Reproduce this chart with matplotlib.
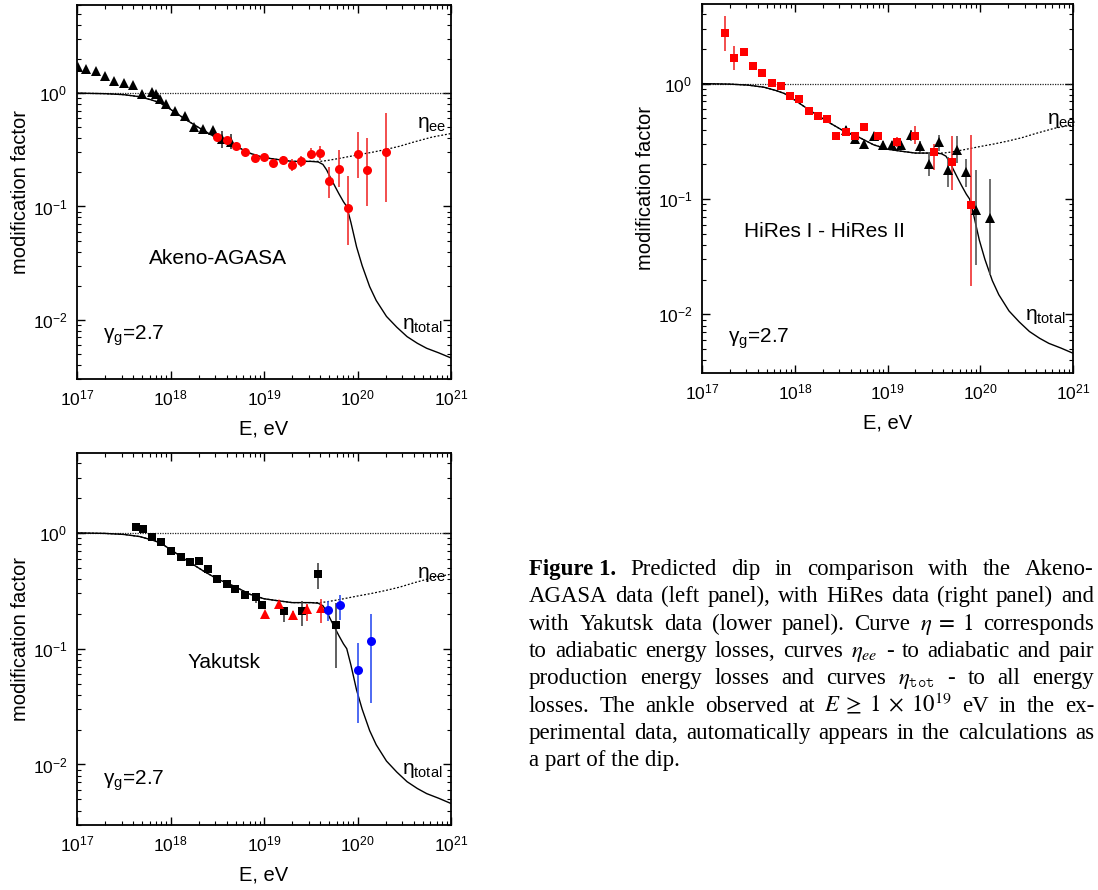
import numpy as np
import matplotlib
matplotlib.use('Agg')
import matplotlib.pyplot as plt
from matplotlib.ticker import LogLocator, NullFormatter

plt.rcParams['font.family'] = ['Liberation Sans', 'DejaVu Sans']
plt.rcParams['mathtext.fontset'] = 'custom'
plt.rcParams['mathtext.rm'] = 'Liberation Sans'
plt.rcParams['mathtext.it'] = 'Liberation Sans:italic'
plt.rcParams['mathtext.bf'] = 'Liberation Sans:bold'

# ---- theory curves, log10(E/eV) vs modification factor ----
lgE_one = [17.0, 21.0]
eta_one = [1.0, 1.0]

lgE_total = [17.0, 17.3, 17.5, 17.67, 17.8, 17.89, 18.0, 18.17, 18.35, 18.5,
             18.67, 18.85, 19.0, 19.14, 19.3, 19.5, 19.58, 19.63, 19.67, 19.71,
             19.76, 19.8, 19.85, 19.885, 19.93, 19.99, 20.05, 20.13, 20.2, 20.31,
             20.42, 20.53, 20.64, 20.74, 20.87, 21.0]
eta_total = [1.0, 0.99, 0.97, 0.93, 0.87, 0.82, 0.72, 0.58, 0.47, 0.40,
             0.35, 0.295, 0.27, 0.26, 0.25, 0.25, 0.247, 0.235, 0.21, 0.18,
             0.15, 0.13, 0.11, 0.10, 0.072, 0.044, 0.030, 0.0196, 0.0148, 0.0107,
             0.0086, 0.0071, 0.0062, 0.0056, 0.0051, 0.0046]

lgE_ee = [17.0, 17.3, 17.5, 17.67, 17.8, 17.89, 18.0, 18.17, 18.35, 18.5,
          18.67, 18.85, 19.0, 19.14, 19.3, 19.5, 19.6, 19.67, 19.8, 20.0,
          20.15, 20.3, 20.45, 20.6, 20.8, 21.0]
eta_ee = [1.0, 0.99, 0.97, 0.93, 0.87, 0.82, 0.72, 0.58, 0.47, 0.40,
          0.35, 0.295, 0.27, 0.26, 0.25, 0.25, 0.25, 0.254, 0.265, 0.285,
          0.30, 0.318, 0.34, 0.37, 0.41, 0.44]

# ---- Akeno (black triangles) ----
akeno_lgE = [17.01, 17.10, 17.20, 17.30, 17.40, 17.50, 17.60, 17.70, 17.80, 17.85,
             17.89, 17.95, 18.05, 18.15, 18.25, 18.35, 18.45, 18.55, 18.65]
akeno_eta = [1.70, 1.64, 1.57, 1.42, 1.29, 1.22, 1.18, 0.98, 1.02, 0.98,
             0.885, 0.80, 0.70, 0.63, 0.50, 0.48, 0.47, 0.39, 0.37]
akeno_lo = [1.64, 1.58, 1.51, 1.34, 1.22, 1.16, 1.10, 0.93, 0.97, 0.93,
            0.84, 0.76, 0.67, 0.60, 0.47, 0.45, 0.44, 0.33, 0.32]
akeno_hi = [1.76, 1.70, 1.63, 1.50, 1.36, 1.28, 1.26, 1.03, 1.07, 1.03,
            0.93, 0.84, 0.73, 0.66, 0.53, 0.51, 0.50, 0.46, 0.44]

# ---- AGASA (red circles) ----
agasa_lgE = [18.50, 18.60, 18.70, 18.80, 18.90, 19.00, 19.10, 19.20, 19.30, 19.40,
             19.50, 19.60, 19.70, 19.80, 19.90, 20.00, 20.10, 20.30]
agasa_eta = [0.414, 0.387, 0.345, 0.301, 0.270, 0.272, 0.244, 0.258, 0.230, 0.251,
             0.293, 0.295, 0.169, 0.213, 0.096, 0.293, 0.21, 0.30]
agasa_lo = [0.39, 0.365, 0.325, 0.285, 0.255, 0.255, 0.225, 0.235, 0.205, 0.225,
            0.265, 0.255, 0.119, 0.150, 0.046, 0.178, 0.10, 0.11]
agasa_hi = [0.44, 0.41, 0.365, 0.32, 0.285, 0.29, 0.265, 0.28, 0.26, 0.28,
            0.325, 0.345, 0.225, 0.316, 0.184, 0.45, 0.40, 0.67]

# ---- HiRes I (red squares) ----
hires1_lgE = [17.25, 17.35, 17.45, 17.55, 17.65, 17.75, 17.85, 17.95, 18.05, 18.15,
              18.25, 18.35, 18.45, 18.55, 18.65, 18.75, 18.90, 19.10, 19.30, 19.50,
              19.70, 19.90]
hires1_eta = [2.73, 1.66, 1.87, 1.42, 1.23, 1.01, 0.95, 0.78, 0.73, 0.575,
              0.52, 0.49, 0.355, 0.38, 0.355, 0.42, 0.35, 0.31, 0.35, 0.256,
              0.21, 0.088]
hires1_lo = [1.90, 1.32, 1.74, 1.33, 1.16, 0.96, 0.90, 0.74, 0.69, 0.545,
             0.49, 0.46, 0.33, 0.35, 0.33, 0.385, 0.32, 0.28, 0.30, 0.18,
             0.12, 0.0175]
hires1_hi = [3.88, 2.10, 1.98, 1.51, 1.30, 1.06, 1.00, 0.82, 0.77, 0.605,
             0.55, 0.52, 0.38, 0.41, 0.38, 0.46, 0.38, 0.345, 0.43, 0.30,
             0.35, 0.357]

# ---- HiRes II (black triangles) ----
hires2_lgE = [18.55, 18.65, 18.75, 18.85, 18.95, 19.05, 19.15, 19.25, 19.35, 19.45,
              19.55, 19.65, 19.75, 19.85, 19.95, 20.10]
hires2_eta = [0.40, 0.33, 0.30, 0.355, 0.294, 0.294, 0.294, 0.36, 0.286, 0.203,
              0.31, 0.18, 0.268, 0.172, 0.080, 0.0687]
hires2_lo = [0.37, 0.31, 0.28, 0.33, 0.275, 0.275, 0.275, 0.32, 0.255, 0.158,
             0.26, 0.126, 0.206, 0.127, 0.027, 0.022]
hires2_hi = [0.43, 0.355, 0.32, 0.38, 0.315, 0.315, 0.315, 0.40, 0.32, 0.25,
             0.36, 0.23, 0.354, 0.22, 0.18, 0.15]

# ---- Yakutsk (black squares) ----
yak_lgE = [17.63, 17.71, 17.80, 17.90, 18.01, 18.11, 18.21, 18.30, 18.40, 18.50,
           18.60, 18.69, 18.80, 18.91, 18.98, 19.21, 19.41, 19.58, 19.77]
yak_eta = [1.13, 1.08, 0.92, 0.83, 0.70, 0.62, 0.565, 0.57, 0.49, 0.40,
           0.36, 0.33, 0.29, 0.277, 0.24, 0.21, 0.21, 0.44, 0.16]
yak_lo = [1.09, 1.04, 0.88, 0.80, 0.67, 0.60, 0.54, 0.545, 0.47, 0.385,
          0.345, 0.315, 0.27, 0.25, 0.225, 0.17, 0.158, 0.327, 0.068]
yak_hi = [1.17, 1.12, 0.96, 0.86, 0.73, 0.645, 0.59, 0.595, 0.51, 0.415,
          0.375, 0.345, 0.31, 0.30, 0.255, 0.227, 0.26, 0.547, 0.25]

# red triangles and blue circles in the Yakutsk panel
yak_red_lgE = [19.01, 19.16, 19.31, 19.46, 19.61]
yak_red_eta = [0.198, 0.243, 0.196, 0.22, 0.223]
yak_red_lo = [0.19, 0.225, 0.18, 0.175, 0.166]
yak_red_hi = [0.21, 0.26, 0.21, 0.242, 0.27]

yak_blue_lgE = [19.68, 19.81, 20.00, 20.14]
yak_blue_eta = [0.217, 0.237, 0.066, 0.117]
yak_blue_lo = [0.175, 0.178, 0.023, 0.034]
yak_blue_hi = [0.26, 0.29, 0.113, 0.20]

W, H = 1098, 890
fig = plt.figure(figsize=(W / 100, H / 100), dpi=100)


def px_axes(l, t, r, b):
    return fig.add_axes([l / W, 1 - b / H, (r - l) / W, (b - t) / H])


def curves(ax):
    ax.plot(10 ** np.array(lgE_one), eta_one, color='#222222', lw=0.9, ls=(0, (1, 1)))
    ax.plot(10 ** np.array(lgE_ee), eta_ee, color='k', lw=0.9, ls=(0, (1.5, 1.5)))
    ax.plot(10 ** np.array(lgE_total), eta_total, color='k', lw=1.0)


def points(ax, lgE, eta, lo, hi, marker, color, ecolor, ms):
    eta = np.array(eta)
    err = [eta - np.array(lo), np.array(hi) - eta]
    ax.errorbar(10 ** np.array(lgE), eta, yerr=err, fmt=marker, color=color,
                ecolor=ecolor, elinewidth=1.2, capsize=0, ms=ms, mew=0, zorder=3)


def setup(ax, ylim):
    ax.set_xscale('log')
    ax.set_yscale('log')
    ax.set_xlim(1e17, 1e21)
    ax.set_ylim(*ylim)
    ax.xaxis.set_major_locator(LogLocator(base=10, numticks=10))
    ax.xaxis.set_minor_locator(LogLocator(base=10, subs=np.arange(2, 10), numticks=50))
    ax.yaxis.set_minor_locator(LogLocator(base=10, subs=np.arange(2, 10), numticks=50))
    ax.xaxis.set_minor_formatter(NullFormatter())
    ax.yaxis.set_minor_formatter(NullFormatter())
    ax.tick_params(which='both', direction='in', top=True, right=True, labelsize=12.5)
    ax.tick_params(which='major', length=6, width=1.0, pad=7)
    ax.tick_params(which='minor', length=3, width=0.8)
    for s in ax.spines.values():
        s.set_linewidth(1.3)
    ax.set_xlabel('E, eV', fontsize=14.5, labelpad=8)
    ax.set_ylabel('modification factor', fontsize=14.5, labelpad=2)


def labels(ax, name, name_xy, gam_xy, ee_xy, tot_xy):
    ax.text(*name_xy, name, fontsize=15, ha='center', va='center')
    ax.text(*gam_xy, 'γ$_\\mathregular{g}$=2.7', fontsize=15, ha='left', va='center')
    ax.text(*ee_xy, 'η$_\\mathregular{ee}$', fontsize=15, ha='left', va='center')
    ax.text(*tot_xy, 'η$_\\mathregular{total}$', fontsize=15, ha='left', va='center')


# Akeno-AGASA
ax1 = px_axes(77, 5, 451, 379)
setup(ax1, (0.003, 6.0))
curves(ax1)
points(ax1, akeno_lgE, akeno_eta, akeno_lo, akeno_hi, '^', 'k', '#333333', 7.5)
points(ax1, agasa_lgE, agasa_eta, agasa_lo, agasa_hi, 'o', '#ff0000', '#f03030', 6.5)
labels(ax1, 'Akeno-AGASA', (10 ** 18.51, 0.035), (10 ** 17.28, 0.0072),
       (10 ** 20.64, 0.53), (10 ** 20.48, 0.0089))

# HiRes
ax2 = px_axes(702, 4, 1073, 373)
setup(ax2, (0.0031, 4.9))
curves(ax2)
points(ax2, hires2_lgE, hires2_eta, hires2_lo, hires2_hi, '^', 'k', '#555555', 7.5)
points(ax2, hires1_lgE, hires1_eta, hires1_lo, hires1_hi, 's', '#ff0000', '#f03030', 5.5)
labels(ax2, 'HiRes I - HiRes II', (10 ** 18.32, 0.052), (10 ** 17.28, 0.0062),
       (10 ** 20.72, 0.48), (10 ** 20.48, 0.0096))

# Yakutsk
ax3 = px_axes(77, 453, 451, 825)
setup(ax3, (0.003, 4.9))
curves(ax3)
points(ax3, yak_lgE, yak_eta, yak_lo, yak_hi, 's', 'k', '#444444', 5.5)
points(ax3, yak_red_lgE, yak_red_eta, yak_red_lo, yak_red_hi, '^', '#ff0000', '#f03030', 7.5)
points(ax3, yak_blue_lgE, yak_blue_eta, yak_blue_lo, yak_blue_hi, 'o', '#0000ff', '#3050f0', 6.5)
labels(ax3, 'Yakutsk', (10 ** 18.57, 0.076), (10 ** 17.28, 0.0072),
       (10 ** 20.64, 0.44), (10 ** 20.48, 0.0089))

# caption, justified between x=529 and the right edge of the image
serif = ['Liberation Serif', 'DejaVu Serif']
cap_lines = [
    [('Figure 1.', 'bold'), 'Predicted', 'dip', 'in', 'comparison', 'with', 'the', 'Akeno-'],
    'AGASA data (left panel), with HiRes data (right panel) and'.split(),
    r'with Yakutsk data (lower panel). Curve $\eta\;=\;1$ corresponds'.split(),
    r'to adiabatic energy losses, curves $\eta_{ee}$ - to adiabatic and pair'.split(),
    r'production energy losses and curves $\eta_{\mathtt{tot}}$ - to all energy'.split(),
    r'losses. The ankle observed at $E\;\geq\;1\;\times\;10^{19}$ eV in the ex-'.split(),
    'perimental data, automatically appears in the calculations as'.split(),
]
last_line = 'a part of the dip.'
cap_left, cap_right = 529, 1094
base0, step = 575, 27.3
fs = 16.5
renderer = fig.canvas.get_renderer()
for i, words in enumerate(cap_lines):
    yb = 1 - (base0 + step * i) / H
    objs = []
    for w in words:
        wt = 'normal'
        if isinstance(w, tuple):
            w, wt = w
        objs.append(fig.text(0, yb, w, fontsize=fs, family=serif, weight=wt,
                             va='baseline', math_fontfamily='stix'))
    widths = [o.get_window_extent(renderer).width for o in objs]
    gap = max((cap_right - cap_left - sum(widths)) / (len(objs) - 1), 3)
    x = cap_left
    for o, wd in zip(objs, widths):
        o.set_x(x / W)
        x += wd + gap
fig.text(cap_left / W, 1 - (base0 + step * len(cap_lines)) / H, last_line,
         fontsize=fs, family=serif, va='baseline')

fig.savefig('out.png', dpi=100)
